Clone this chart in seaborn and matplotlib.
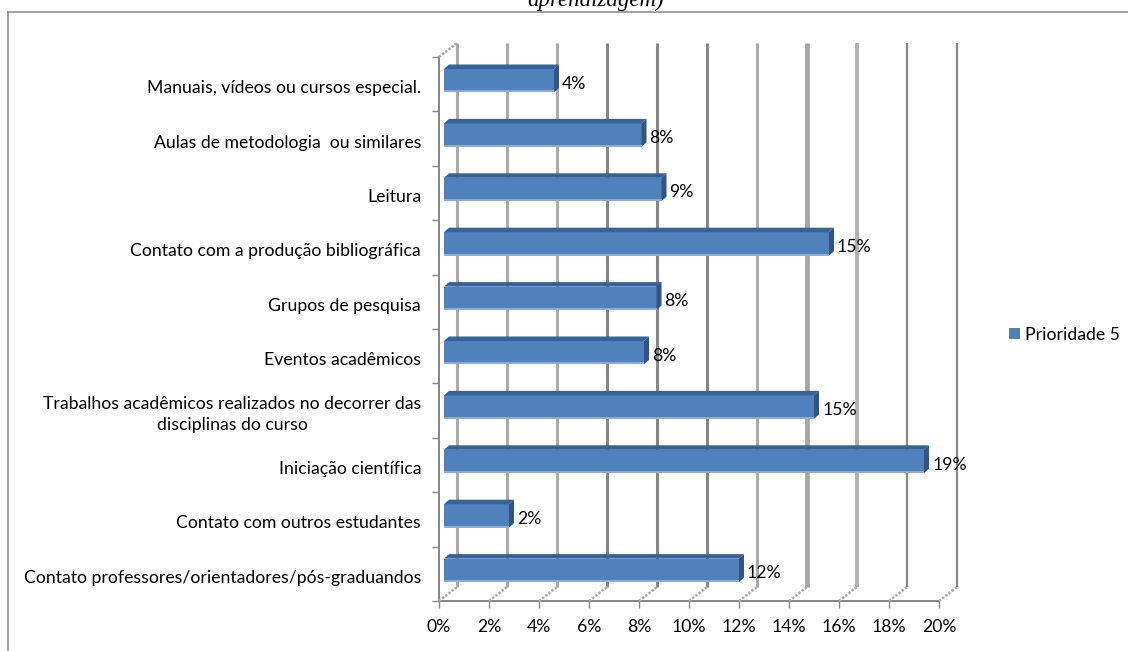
import matplotlib
matplotlib.use("Agg")
import matplotlib.pyplot as plt
import seaborn as sns
import pandas as pd
from matplotlib.lines import Line2D
from matplotlib.patches import Polygon
from matplotlib.transforms import IdentityTransform, ScaledTranslation

# Values
categorias = [
    "Manuais, vídeos ou cursos especial.",
    "Aulas de metodologia  ou similares",
    "Leitura",
    "Contato com a produção bibliográfica",
    "Grupos de pesquisa",
    "Eventos acadêmicos",
    "Trabalhos acadêmicos realizados no decorrer das\ndisciplinas do curso",
    "Iniciação científica",
    "Contato com outros estudantes",
    "Contato professores/orientadores/pós-graduandos",
]
valores = [4.4, 7.9, 8.7, 15.4, 8.5, 8.0, 14.8, 19.2, 2.6, 11.8]
rotulos = ["4%", "8%", "9%", "15%", "8%", "8%", "15%", "19%", "2%", "12%"]
ticks_x = [0, 2, 4, 6, 8, 10, 12, 14, 16, 18, 20]
serie = "Prioridade 5"
titulo = "aprendizagem)"

# Back wall line styles, they differ a bit in the original
cor_grade = ["#ababab", "#ababab", "#ababab", "#868686", "#868686", "#868686",
             "#ababab", "#a5a5a5", "#b0b0b0", "#868686", "#868686"]
larg_grade = [2.2, 2.2, 2.2, 2.2, 2.2, 2.2, 2.2, 3.4, 2.8, 1.6, 1.6]

W, H = 1128, 651
AZUL = "#4f81bd"
CINZA = "#868686"
FONTE = 12.7
plt.rcParams["font.family"] = ["Lato", "DejaVu Sans"]

df = pd.DataFrame({"categoria": categorias, "valor": valores})


def caixa(x0, y_topo, x1, y_base):
    # pixel box of the image -> figure fractions
    return [x0 / W, 1 - y_base / H, (x1 - x0) / W, (y_base - y_topo) / H]


def piso(ax, x, y):
    # dotted line from the front of the chart to the back wall
    px, py = ax.transData.transform((x, y))
    fig.add_artist(Line2D([px, px + 18], [py, py + 14], color="#ababab", lw=1.8,
                          ls=(0, (1, 0.6)), transform=IdentityTransform()))


fig = plt.figure(figsize=(W / 100, H / 100), dpi=100, facecolor="white")

# frame of the chart area, the bottom and right are cut off in the picture
fig.add_artist(Line2D([8 / W, 8 / W], [0, 1 - 12 / H], color=CINZA, lw=1.1))
fig.add_artist(Line2D([8 / W, 1], [1 - 12 / H, 1 - 12 / H], color=CINZA, lw=1.1))
fig.text(596 / W, 1 - 6 / H, titulo, family="Liberation Serif", style="italic",
         fontsize=16.5, ha="center", va="baseline", color="black")

# axes with the scale, ticks and back wall
ax = fig.add_axes(caixa(439, 57, 939, 601))
ax.set_xlim(0, 20)
ax.set_ylim(0, 10)
ax.set_xticks(ticks_x, [f"{t}%" for t in ticks_x])
ax.set_yticks(range(11), [""] * 11)
ax.tick_params(axis="both", length=5, width=1, color=CINZA, labelsize=FONTE, pad=8)
for lado in ["top", "right"]:
    ax.spines[lado].set_visible(False)
for lado in ["left", "bottom"]:
    ax.spines[lado].set_color(CINZA)
    ax.spines[lado].set_linewidth(1.4)
ax.patch.set_alpha(0)

fundo = ax.transData + ScaledTranslation(18 / 100, 14.5 / 100, fig.dpi_scale_trans)
for t, c, lw in zip(ticks_x, cor_grade, larg_grade):
    ax.plot([t, t], [0, 10], transform=fundo, color=c, lw=lw, clip_on=False,
            solid_capstyle="butt", zorder=1)
    piso(ax, t, 0)
piso(ax, 0, 10)

# bars sit a little in front of the wall, so their axes is shifted
ax_b = fig.add_axes(caixa(444, 53.5, 944, 597.5))
sns.barplot(data=df, y="categoria", x="valor", order=categorias, color=AZUL, saturation=1,
            width=0.43, label=serie, ax=ax_b)
ax_b.set_xlim(0, 20)
ax_b.set_xlabel("")
ax_b.set_ylabel("")
ax_b.set_xticks([])
ax_b.tick_params(axis="y", length=0, labelsize=FONTE, pad=16.5)
fig.canvas.draw()
for txt in ax_b.get_yticklabels():
    txt.set_multialignment("center")
    # the labels sit lower than the bars; the two-line one a bit less
    desce = 3 if "\n" in txt.get_text() else 6
    txt.set_linespacing(1.45)
    txt.set_transform(txt.get_transform() + ScaledTranslation(0, -desce / 100, fig.dpi_scale_trans))
sns.despine(ax=ax_b, left=True, bottom=True)
ax_b.patch.set_alpha(0)

for barra in list(ax_b.patches):
    (x0, y0), (x1, y1) = ax_b.transData.transform(barra.get_bbox().get_points())
    ylo, yhi = min(y0, y1), max(y0, y1)
    # top face and end face of the 3D bar
    fig.add_artist(Polygon([(x0, yhi), (x1, yhi), (x1 + 5, yhi + 4.5), (x0 + 5, yhi + 4.5)],
                           closed=True, fc="#3a6296", ec="none", transform=IdentityTransform()))
    fig.add_artist(Polygon([(x1, ylo), (x1, yhi), (x1 + 5, yhi + 4.5), (x1 + 5, ylo + 4.5)],
                           closed=True, fc="#2f5587", ec="none", transform=IdentityTransform()))
    # pale strip along the lower edge
    fig.add_artist(Polygon([(x0, ylo), (x1, ylo), (x1, ylo + 2), (x0, ylo + 2)],
                           closed=True, fc="#8fadd3", ec="none", transform=IdentityTransform()))

for i, (v, rot) in enumerate(zip(valores, rotulos)):
    ax_b.annotate(rot, xy=(v, i), xytext=(8, -3), textcoords="offset pixels",
                  fontsize=FONTE, va="center", ha="left", color="black")

ax_b.legend(loc="center left", bbox_to_anchor=(1009 / W, 1 - 334.5 / H), bbox_transform=fig.transFigure,
            frameon=False, fontsize=FONTE, handlelength=0.63, handleheight=0.63,
            handletextpad=0.3, borderpad=0, borderaxespad=0)

fig.savefig("out.png", dpi=100)
